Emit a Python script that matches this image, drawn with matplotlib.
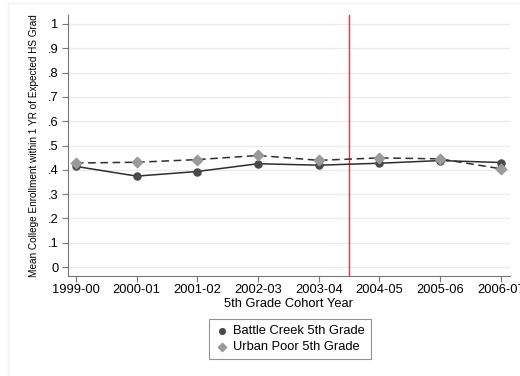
import matplotlib
matplotlib.use("Agg")
from matplotlib import pyplot as plt
from matplotlib.patches import Rectangle

plt.rcParams["font.family"] = ["Liberation Sans", "DejaVu Sans"]

cohorts = ["1999-00", "2000-01", "2001-02", "2002-03", "2003-04", "2004-05", "2005-06", "2006-07"]
battle_creek = [0.414, 0.374, 0.393, 0.425, 0.419, 0.427, 0.438, 0.430]
urban_poor = [0.428, 0.431, 0.442, 0.459, 0.439, 0.449, 0.445, 0.404]
yticks = [0, 0.1, 0.2, 0.3, 0.4, 0.5, 0.6, 0.7, 0.8, 0.9, 1.0]
ytick_labels = ["0", ".1", ".2", ".3", ".4", ".5", ".6", ".7", ".8", ".9", "1"]
cutoff = 4.5

fig = plt.figure(figsize=(5.2, 3.76), dpi=100)
# faint outer graph-region frame
fig.patches.append(Rectangle((8 / 520, -0.01), 1.0, 1 - 2.5 / 376 + 0.01, transform=fig.transFigure,
                             fill=False, edgecolor="#f0f0f0", linewidth=1))
ax = fig.add_axes([68 / 520, 100 / 376, 442 / 520, 261 / 376])

x = list(range(len(cohorts)))
ax.plot(x, battle_creek, color="#2e2e2e", linewidth=1.1, zorder=3)
ax.plot(x, urban_poor, color="#2e2e2e", linewidth=1.1, linestyle=(0, (5, 3)), zorder=3)
ax.scatter(x, battle_creek, marker="o", s=26, color="#4a4a4a", zorder=4, label="Battle Creek 5th Grade")
ax.scatter(x, urban_poor, marker="D", s=28, color="#9a9a9a", zorder=4, label="Urban Poor 5th Grade")
ax.axvline(cutoff, color="#e8333a", linewidth=1.0, zorder=2)

ax.set_xlim(-0.13, 7.15)
ax.set_ylim(-0.037, 1.037)
ax.set_yticks(yticks)
ax.set_yticklabels(ytick_labels)
ax.set_xticks(x)
ax.set_xticklabels(cohorts)
ax.yaxis.grid(True, color="#ebebeb", linewidth=1)
ax.set_axisbelow(True)
for s in ["top", "right"]:
    ax.spines[s].set_visible(False)
for s in ["left", "bottom"]:
    ax.spines[s].set_color("#777777")
ax.tick_params(axis="both", length=4, color="#777777", labelsize=9.3, pad=2)
ax.tick_params(axis="y", pad=3)
ax.set_xlabel("5th Grade Cohort Year", fontsize=9.3, labelpad=1)
ax.set_ylabel("Mean College Enrollment within 1 YR of Expected HS Grad", fontsize=7.2, labelpad=6)

leg = ax.legend(loc="center", bbox_to_anchor=(290 / 520, 1 - 339 / 376), bbox_transform=fig.transFigure,
                fontsize=9.3, frameon=True, fancybox=False, edgecolor="#777777", handletextpad=0.4,
                handlelength=1.0, borderpad=0.5, labelspacing=0.3, scatterpoints=1, markerscale=0.8)
leg.get_frame().set_linewidth(0.8)

fig.savefig("out.png", dpi=100, facecolor="white")
